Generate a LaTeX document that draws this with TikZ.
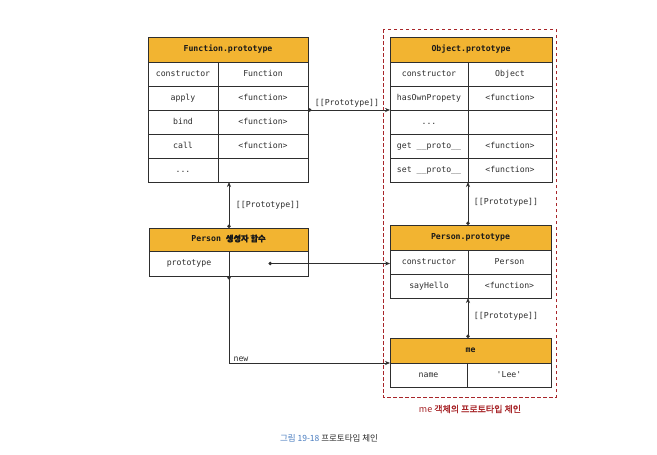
\documentclass[tikz,border=0pt]{standalone}
\usepackage{fontspec}
\setmainfont{Noto Sans CJK KR}
\setmonofont{DejaVu Sans Mono}
\newfontfamily\kr{Noto Sans CJK KR}
\newfontfamily\krb[FakeBold=1.3]{Noto Sans CJK KR}
\usetikzlibrary{arrows.meta}
\definecolor{hdr}{HTML}{F2B431}
\definecolor{ln}{HTML}{2E2E2E}
\definecolor{redc}{HTML}{A8262A}
\definecolor{bluec}{HTML}{4A7DC0}
\begin{document}
\begin{tikzpicture}[x=1pt,y=-1pt,
  cell/.style={draw=ln, line width=0.8pt, fill=white, rectangle, inner sep=0pt, outer sep=0pt,
    anchor=north west, font=\ttfamily\fontsize{8.2}{10}\selectfont, text=ln,
    text height=6pt, text depth=1.8pt},
  head/.style={cell, fill=hdr, font=\ttfamily\bfseries\fontsize{8.2}{10}\selectfont, text=black!90},
  conn/.style={draw=ln, line width=0.7pt, {Circle[length=3.4pt]}-{Stealth[length=5pt,width=4pt]}},
  lbl/.style={font=\ttfamily\fontsize{8.2}{10}\selectfont, text=ln, inner sep=0pt}]
\useasboundingbox (0,0) rectangle (657,455);
\fill[white] (0,0) rectangle (657,455);

% dashed box
\draw[redc, line width=0.8pt, dash pattern=on 3.5pt off 2.5pt] (383,29) rectangle (556,397);

% Function.prototype
\node[head, minimum width=160pt, minimum height=25pt] (fpHead) at (148,37) {Function.prototype};
\node[cell, minimum width=70pt, minimum height=24pt] (fpCtorK) at (148,62) {constructor};
\node[cell, minimum width=90pt, minimum height=24pt] (fpCtorV) at (218,62) {Function};
\node[cell, minimum width=70pt, minimum height=24pt] (fpApplyK) at (148,86) {apply};
\node[cell, minimum width=90pt, minimum height=24pt] (fpApplyV) at (218,86) {<function>};
\node[cell, minimum width=70pt, minimum height=24pt] (fpBindK) at (148,110) {bind};
\node[cell, minimum width=90pt, minimum height=24pt] (fpBindV) at (218,110) {<function>};
\node[cell, minimum width=70pt, minimum height=24pt] (fpCallK) at (148,134) {call};
\node[cell, minimum width=90pt, minimum height=24pt] (fpCallV) at (218,134) {<function>};
\node[cell, minimum width=70pt, minimum height=24pt] (fpDotsK) at (148,158) {...};
\node[cell, minimum width=90pt, minimum height=24pt] (fpDotsV) at (218,158) {};

% Object.prototype
\node[head, minimum width=162pt, minimum height=25pt] (opHead) at (390,37) {Object.prototype};
\node[cell, minimum width=78pt, minimum height=24pt] (opCtorK) at (390,62) {constructor};
\node[cell, minimum width=84pt, minimum height=24pt] (opCtorV) at (468,62) {Object};
\node[cell, minimum width=78pt, minimum height=24pt] (opHasK) at (390,86) {hasOwnPropety};
\node[cell, minimum width=84pt, minimum height=24pt] (opHasV) at (468,86) {<function>};
\node[cell, minimum width=78pt, minimum height=24pt] (opDotsK) at (390,110) {...};
\node[cell, minimum width=84pt, minimum height=24pt] (opDotsV) at (468,110) {};
\node[cell, minimum width=78pt, minimum height=24pt] (opGetK) at (390,134) {get \_\_proto\_\_};
\node[cell, minimum width=84pt, minimum height=24pt] (opGetV) at (468,134) {<function>};
\node[cell, minimum width=78pt, minimum height=24pt] (opSetK) at (390,158) {set \_\_proto\_\_};
\node[cell, minimum width=84pt, minimum height=24pt] (opSetV) at (468,158) {<function>};

% Person constructor
\node[head, minimum width=159pt, minimum height=23pt] (pfHead) at (149,228) {Person {\krb 생성자 함수}};
\node[cell, minimum width=80pt, minimum height=25pt] (pfProtoK) at (149,251) {prototype};
\node[cell, minimum width=79pt, minimum height=25pt] (pfProtoV) at (229,251) {};

% Person.prototype
\node[head, minimum width=161pt, minimum height=25pt] (ppHead) at (390,225) {Person.prototype};
\node[cell, minimum width=78pt, minimum height=24pt] (ppCtorK) at (390,250) {constructor};
\node[cell, minimum width=83pt, minimum height=24pt] (ppCtorV) at (468,250) {Person};
\node[cell, minimum width=78pt, minimum height=24pt] (ppSayK) at (390,274) {sayHello};
\node[cell, minimum width=83pt, minimum height=24pt] (ppSayV) at (468,274) {<function>};

% me
\node[head, minimum width=161pt, minimum height=25pt] (meHead) at (390,338) {me};
\node[cell, minimum width=77pt, minimum height=24pt] (meNameK) at (390,363) {name};
\node[cell, minimum width=84pt, minimum height=24pt] (meNameV) at (467,363) {'Lee'};

% connectors
\draw[conn] (fpApplyV.south east) -- (opHasK.south west);
\node[lbl] (l1) at (347,103) {[[Prototype]]};

\draw[conn] (pfHead.north -| pfProtoK.east) -- (fpDotsK.south -| pfProtoK.east);
\node[lbl] (l2) at (268,205) {[[Prototype]]};

\draw[conn] (pfProtoV.center) -- (pfProtoV.center -| ppCtorK.west);

\draw[conn] (pfProtoK.south east) |- (meNameK.north west);
\node[lbl] (l3) at (241,359) {new};

\draw[conn] (ppHead.north -| ppCtorK.east) -- (opSetK.south east);
\node[lbl] (l4) at (506,202) {[[Prototype]]};

\draw[conn] (meHead.north -| ppSayK.east) -- (ppSayK.south east);
\node[lbl] (l5) at (506,316) {[[Prototype]]};

% labels
\node[font=\fontsize{9}{11}\selectfont, text=redc, inner sep=0pt] (chain) at (470,409) {me {\krb 객체의 프로토타입 체인}};
\node[font=\fontsize{8.5}{10}\selectfont, inner sep=0pt] (cap) at (329,438) {\textcolor{bluec}{그림 19-18} \textcolor{ln}{프로토타입 체인}};
\end{tikzpicture}
\end{document}
